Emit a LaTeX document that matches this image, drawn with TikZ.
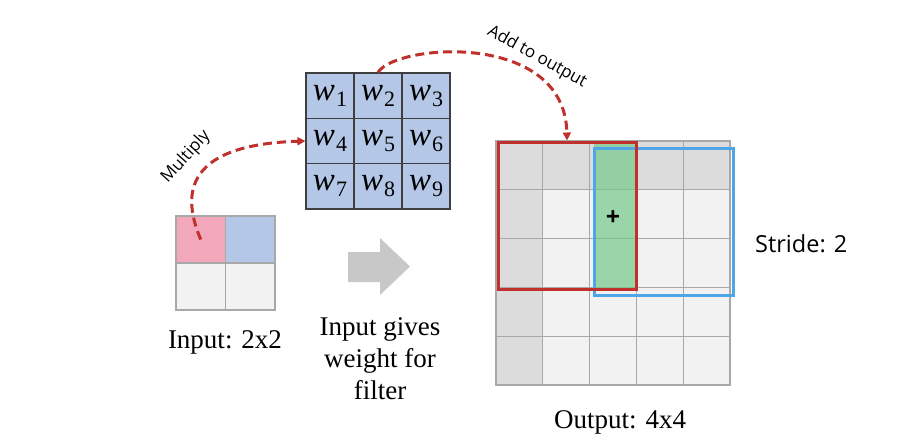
\documentclass[tikz,border=0pt]{standalone}
\usepackage{fontspec}
\setmainfont{Liberation Serif}
\newfontfamily\labelsans{Open Sans}
\usetikzlibrary{arrows.meta}

\definecolor{filterblue}{HTML}{B4C7E7}
\definecolor{filterline}{HTML}{3F3F3F}
\definecolor{cellgray}{HTML}{F2F2F2}
\definecolor{cellshade}{HTML}{DCDCDC}
\definecolor{gridline}{HTML}{A8A8A8}
\definecolor{inpink}{HTML}{F2A7BB}
\definecolor{flowred}{HTML}{C0302C}
\definecolor{strideblue}{HTML}{4EA6E6}
\definecolor{sumgreen}{HTML}{76C98B}
\definecolor{hintgray}{HTML}{C8C8C8}

% italic weight symbol with a lowered index
\newcommand\weightsym[1]{{\itshape w}\kern1pt\raisebox{-6pt}{\fontsize{22}{22}\selectfont #1}}

\tikzset{
  wcell/.style={draw=filterline, line width=1.2pt, fill=filterblue,
    minimum width=48pt, minimum height=45.33pt, inner sep=0pt,
    font=\fontsize{33}{33}\selectfont},
  icell/.style={draw=gridline, line width=1.5pt, minimum width=49.5pt,
    minimum height=47pt, inner sep=0pt},
  ocell/.style={draw=gridline, line width=1.1pt, minimum width=46.8pt,
    minimum height=48.8pt, inner sep=0pt},
  window/.style={line width=3pt, inner sep=0pt},
  flow/.style={draw=flowred, line width=3pt, dash pattern=on 9pt off 5pt,
    -{Triangle[length=8pt,width=8pt]}},
  caption/.style={font=\fontsize{27}{32}\selectfont, align=center, inner sep=0pt},
  note/.style={font=\labelsans\fontsize{17}{20}\selectfont, inner sep=0pt},
}

\begin{document}
\begin{tikzpicture}[x=1pt,y=-1pt]
  \useasboundingbox[fill=white] (0,0) rectangle (920,444);

  % 3x3 filter of weights
  \foreach \i in {1,2,3}{
    \foreach \j in {1,2,3}{
      \pgfmathtruncatemacro\k{3*(\i-1)+\j}
      \node[wcell] (f\i\j) at ({330+48*(\j-1)},{95.67+45.33*(\i-1)}) {\weightsym{\k}};
    }
  }

  % 2x2 input
  \node[icell, fill=inpink]     (in11) at (200.75,239.5) {};
  \node[icell, fill=filterblue] (in12) at (250.25,239.5) {};
  \node[icell, fill=cellgray]   (in21) at (200.75,286.5) {};
  \node[icell, fill=cellgray]   (in22) at (250.25,286.5) {};

  % 5x5 output grid, first row and column shaded
  \foreach \i in {1,...,5}{
    \foreach \j in {1,...,5}{
      \pgfmathtruncatemacro\edge{(\i==1)||(\j==1)}
      \ifnum\edge=1
        \node[ocell, fill=cellshade] (o\i\j) at ({519.4+46.8*(\j-1)},{165.4+48.8*(\i-1)}) {};
      \else
        \node[ocell, fill=cellgray] (o\i\j) at ({519.4+46.8*(\j-1)},{165.4+48.8*(\i-1)}) {};
      \fi
    }
  }

  % overlap column where the two windows sum
  \node[inner sep=0pt, fill=sumgreen, fill opacity=0.7,
        minimum width=42pt, minimum height=147pt] (sumcol) at (615,215.5) {};
  \node[font=\labelsans\bfseries\fontsize{25}{25}\selectfont, inner sep=0pt] (plus) at (613,218) {+};

  % filter windows
  \node[window, draw=strideblue, minimum width=139pt, minimum height=147pt] (bluewin) at (663.5,221.5) {};
  \node[window, draw=flowred, minimum width=138pt, minimum height=147pt] (redwin) at (567,215.5) {};

  % dashed flow arrows
  \draw[flow] (in11.center) .. controls (184,200) and (178,145) .. (f21.west);
  \draw[flow] (f12.north) .. controls (395,44) and (565,30) .. (redwin.north);

  % grey hint arrow
  \fill[hintgray] (348,252) -- (380,252) -- (380,238) -- (410,266.5)
    -- (380,295) -- (380,282) -- (348,282) -- cycle;

  % labels
  \node[note, rotate=48] (mult) at (186,157) {Multiply};
  \node[note, rotate=-29] (addlbl) at (537,57) {Add to output};
  \node[caption, anchor=base] (incap) at (225,348) {Input: 2x2};
  \node[caption, anchor=north] (hint) at (380,317) {Input gives\\weight for\\filter};
  \node[caption, anchor=base] (outcap) at (620,428) {Output: 4x4};
  \node[font=\labelsans\fontsize{23.5}{28}\selectfont, inner sep=0pt, anchor=base west] (stride) at (755,252) {Stride: 2};
\end{tikzpicture}
\end{document}
